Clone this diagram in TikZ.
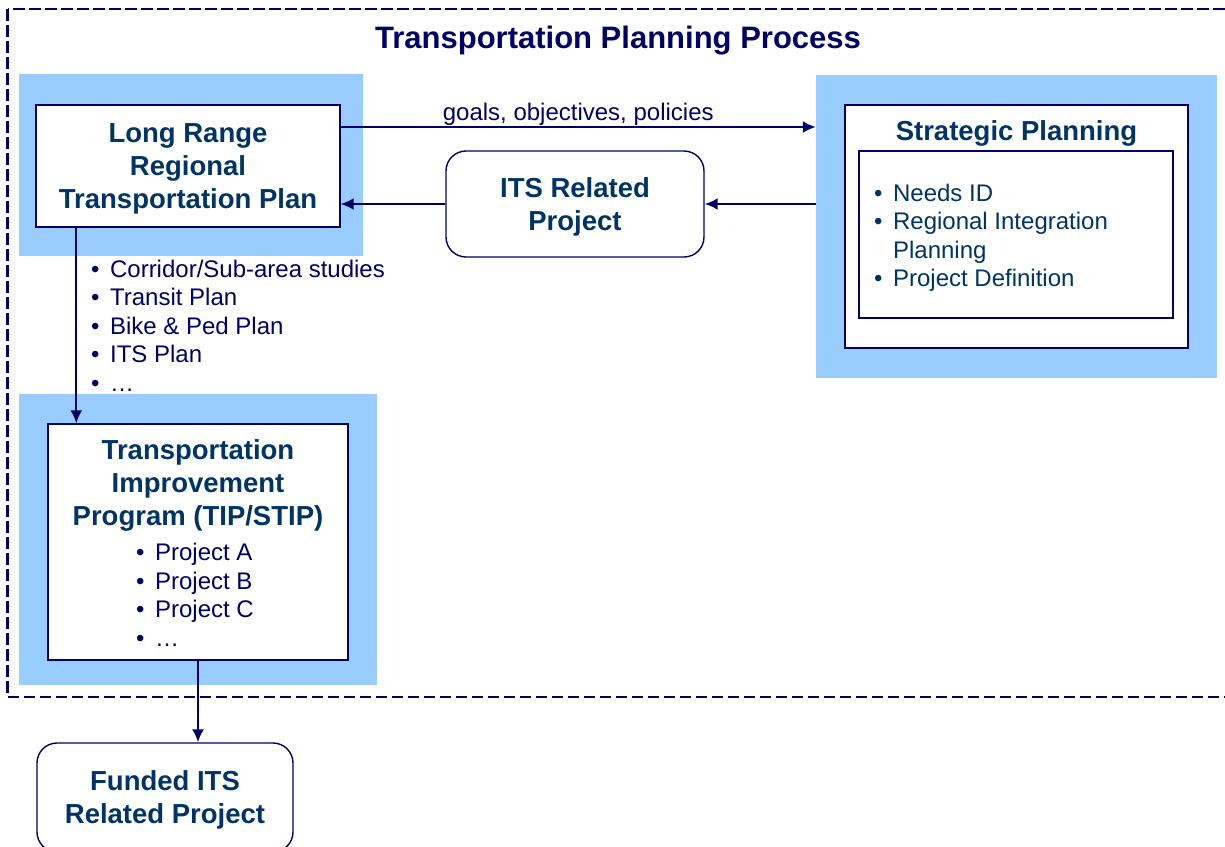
\documentclass[tikz,border=0pt]{standalone}
\usepackage{fontspec}
\setmainfont{Liberation Sans}
\usetikzlibrary{positioning,arrows.meta}
\definecolor{navy}{HTML}{000066}
\definecolor{deepblue}{HTML}{003366}
\definecolor{skyfill}{HTML}{99CCFF}

\begin{document}
\begin{tikzpicture}[x=1pt,y=-1pt,
	bluebg/.style={fill=skyfill, draw=none, inner sep=0pt},
	whitebox/.style={fill=white, draw=navy, line width=1.4pt, inner sep=0pt},
	roundbox/.style={whitebox, rounded corners=20pt},
	heading/.style={font=\fontsize{27.5}{33}\selectfont\bfseries, text=deepblue, align=center},
	smalltext/.style={font=\fontsize{24}{28.5}\selectfont, text=navy, inner sep=0pt},
	link/.style={draw=navy, line width=2.3pt, -{Latex[length=13pt,width=12pt]}}]
	\useasboundingbox (0,0) rectangle (1225,846);
	\draw[navy, line width=2.8pt, dash pattern=on 11.5pt off 4.5pt] (7.5,9) rectangle (1240,697);
	\node[font=\fontsize{31}{37}\selectfont\bfseries, text=navy] (title) at (618,41) {Transportation Planning Process};

	\node[bluebg, minimum width=344, minimum height=182] (lrtpbg) at (191,165) {};
	\node[whitebox, minimum width=304, minimum height=122] (lrtp) at (188,166) {};
	\node[heading] (lrtptext) at ([yshift=-3pt]lrtp.center) {Long Range\\Regional\\Transportation Plan};
	\node[smalltext, anchor=west] (lrtplist) at (91,328.5) {\begin{tabular}{@{}l@{\hspace{10.5pt}}l@{}}
		\textbullet & Corridor/Sub-area studies\\
		\textbullet & Transit Plan\\
		\textbullet & Bike \& Ped Plan\\
		\textbullet & ITS Plan\\
		\textbullet & \dots
	\end{tabular}};

	\node[bluebg, minimum width=401, minimum height=303] (stratbg) at (1016.5,226.5) {};
	\node[whitebox, minimum width=343, minimum height=243] (strat) at (1016.5,226.5) {};
	\node[heading] (strattitle) at (1016.5,133) {Strategic Planning};
	\node[whitebox, minimum width=314, minimum height=167] (needs) at (1016,234.5) {};
	\node[smalltext, text=deepblue, anchor=west] (needslist) at (874,238.5) {\begin{tabular}{@{}l@{\hspace{10.5pt}}l@{}}
		\textbullet & Needs ID\\
		\textbullet & Regional Integration\\
		 & Planning\\
		\textbullet & Project Definition
	\end{tabular}};

	\node[roundbox, minimum width=258, minimum height=106] (its) at (575,204) {};
	\node[heading] (itstext) at ([yshift=-3pt]its.center) {ITS Related\\Project};

	\node[bluebg, minimum width=358, minimum height=291] (tipbg) at (198,539.5) {};
	\node[whitebox, minimum width=300, minimum height=236] (tip) at (198,542) {};
	\node[heading] (tiptitle) at (198,485) {Transportation\\Improvement\\Program (TIP/STIP)};
	\node[smalltext, anchor=west] (tiplist) at (136,598) {\begin{tabular}{@{}l@{\hspace{10.5pt}}l@{}}
		\textbullet & Project A\\
		\textbullet & Project B\\
		\textbullet & Project C\\
		\textbullet & \dots
	\end{tabular}};

	\node[roundbox, minimum width=256, minimum height=109] (funded) at (165,797.5) {};
	\node[heading] (fundedtext) at ([yshift=-2pt]funded.center) {Funded ITS\\Related Project};

	\draw[link] ([yshift=39pt]lrtp.east) -- ([yshift=39pt]lrtp.east -| stratbg.west) node[midway, above=0pt, smalltext]{goals, objectives, policies};
	\draw[link] (its.west) -- (its.west -| lrtp.east);
	\draw[link] (its.east -| stratbg.west) -- (its.east);
	\draw[link] ([xshift=41pt]lrtp.south west) -- ([xshift=41pt]lrtp.south west |- tip.north);
	\draw[link] (tip.south) -- (tip.south |- funded.north);
\end{tikzpicture}
\end{document}
